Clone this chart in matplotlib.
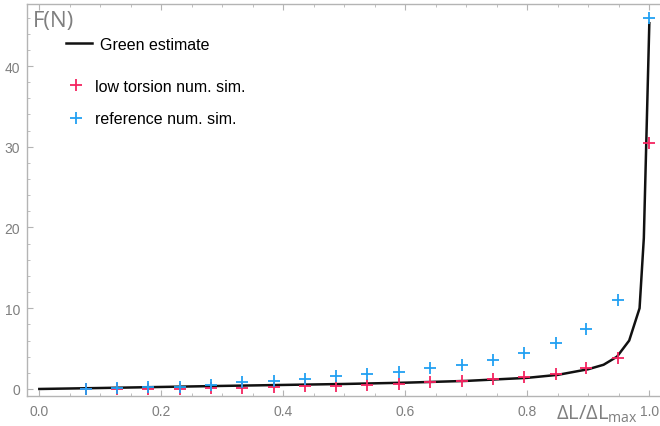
import matplotlib
matplotlib.use("Agg")
import matplotlib.pyplot as plt
from matplotlib.ticker import MultipleLocator

# ---- data ----
x_sim = [0.077, 0.127, 0.178, 0.231, 0.281, 0.332, 0.384, 0.436, 0.486, 0.537,
         0.590, 0.640, 0.693, 0.743, 0.795, 0.847, 0.897, 0.949, 1.0]
y_low = [0.0, 0.0, 0.02, 0.03, 0.1, 0.08, 0.2, 0.33, 0.41, 0.54,
         0.62, 0.82, 0.95, 1.24, 1.45, 1.86, 2.56, 3.84, 30.5]
y_ref = [0.0, 0.1, 0.2, 0.28, 0.5, 0.9, 1.03, 1.24, 1.57, 1.8,
         2.15, 2.56, 2.97, 3.63, 4.46, 5.66, 7.43, 11.0, 45.9]
x_green = [0.0, 0.1, 0.2, 0.3, 0.4, 0.5, 0.6, 0.7, 0.8, 0.85, 0.9, 0.925,
           0.947, 0.967, 0.984, 0.991, 1.0]
y_green = [0.0, 0.12, 0.25, 0.38, 0.5, 0.62, 0.78, 1.0, 1.38, 1.75, 2.45, 3.0,
           4.0, 6.0, 10.0, 18.7, 45.3]

x_ticks = [0.0, 0.2, 0.4, 0.6, 0.8, 1.0]
x_ticklabels = ["0.0", "0.2", "0.4", "0.6", "0.8", "1.0"]
y_ticks = [0, 10, 20, 30, 40]

RED = "#f52460"
BLUE = "#22a0f2"
FRAME = "#b4b4b4"
TXT = "#7f7f7f"

plt.rcParams['font.family'] = ['Liberation Sans', 'DejaVu Sans']

W, H = 660, 427
fig = plt.figure(figsize=(W / 100, H / 100), dpi=100)
ax = fig.add_axes([27 / W, 1 - 397 / H, (660 - 27) / W, (397 - 5) / H])

line, = ax.plot(x_green, y_green, color="#111111", lw=1.8, label="Green estimate", zorder=2)
p_low, = ax.plot(x_sim, y_low, ls="none", marker="+", ms=8, mew=1.3, color=RED,
                 label="low torsion num. sim.", zorder=3)
p_ref, = ax.plot(x_sim, y_ref, ls="none", marker="+", ms=8, mew=1.3, color=BLUE,
                 label="reference num. sim.", zorder=3)

ax.set_xlim(-0.0202, 1.0175)
ax.set_ylim(-0.87, 47.68)
ax.set_xticks(x_ticks)
ax.set_xticklabels(x_ticklabels)
ax.set_yticks(y_ticks)
ax.xaxis.set_minor_locator(MultipleLocator(0.05))
ax.yaxis.set_minor_locator(MultipleLocator(2))

for s in ax.spines.values():
    s.set_color(FRAME)
    s.set_linewidth(1.0)
ax.spines["right"].set_visible(False)

ax.tick_params(which="both", direction="in", top=True, right=False,
               color=FRAME, labelcolor=TXT, labelsize=10)
ax.tick_params(which="major", length=4, width=0.8)
ax.tick_params(which="minor", length=2, width=0.6)
ax.tick_params(axis="x", pad=6)
ax.tick_params(axis="y", pad=5)

leg1 = ax.legend(handles=[line], loc="center left",
                 bbox_to_anchor=(66 / W, 1 - 45 / H), bbox_transform=fig.transFigure,
                 frameon=False, fontsize=11.5, handlelength=1.6, handletextpad=0.55,
                 borderaxespad=0, borderpad=0)
ax.add_artist(leg1)
leg2 = ax.legend(handles=[p_low, p_ref], loc="center left",
                 bbox_to_anchor=(66 / W, 1 - 103.5 / H), bbox_transform=fig.transFigure,
                 frameon=False, fontsize=11.5, handlelength=1.2, handletextpad=0.6,
                 labelspacing=1.12, borderaxespad=0, borderpad=0)

# axis labels placed as in the reference
fig.text(33 / W, 1 - 21 / H, "F(N)", fontsize=16, color=TXT, ha="left",
         va="center", family=["Open Sans", "DejaVu Sans"])
fig.text(638 / W, 1 - 420 / H, r"ΔL/ΔL$_{\mathregular{max}}$", fontsize=14.5,
         color=TXT, ha="right", va="baseline", family=["Open Sans", "DejaVu Sans"])

fig.savefig("out.png", dpi=100)
